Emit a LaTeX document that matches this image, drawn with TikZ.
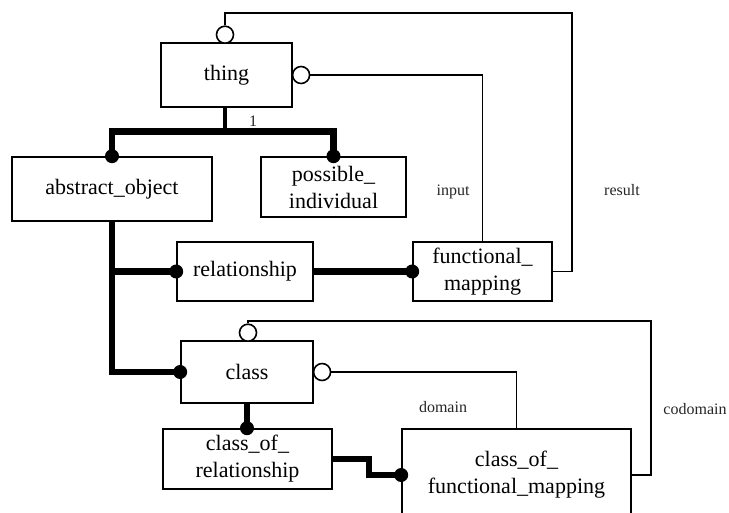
\documentclass[tikz,border=0pt]{standalone}
\usepackage{fontspec}
\setmainfont{Liberation Serif}
\begin{document}
\begin{tikzpicture}[x=1pt,y=-1pt,
  box/.style={draw, line width=1.6pt, inner sep=0pt, align=center, font=\fontsize{22}{27}\selectfont},
  link/.style={line width=1.6pt},
  heavy/.style={line width=6.5pt},
  ocirc/.style={circle, draw, fill=white, line width=1.6pt, minimum size=17pt, inner sep=0pt},
  lab/.style={font=\fontsize{16}{18}\selectfont, text=black!85, inner sep=0pt}
]
\useasboundingbox (0,0) rectangle (729,512);
\fill[white] (0,0) rectangle (729,512);
\clip (0,0) rectangle (729,512);

% nodes
\node[box, minimum width=131pt, minimum height=64pt] (thing) at (226.5,75) {thing};
\node[box, minimum width=200pt, minimum height=64pt] (abs) at (112,189) {abstract\_object};
\node[box, minimum width=145pt, minimum height=60pt] (poss) at (333.5,187) {possible\_\\individual};
\node[box, minimum width=136pt, minimum height=59pt] (rel) at (245,271.5) {relationship};
\node[box, minimum width=139pt, minimum height=59pt] (fm) at (482.5,271.5) {functional\_\\mapping};
\node[box, minimum width=132pt, minimum height=62pt] (class) at (247,372) {class};
\node[box, minimum width=169pt, minimum height=60pt] (cor) at (247.5,459) {class\_of\_\\relationship};
\node[box, minimum width=229pt, minimum height=92pt] (cofm) at (516.5,475) {class\_of\_\\functional\_mapping};

% labels
\node[lab] (one) at (253,121) {1};
\node[lab] (linput) at (453,192) {input};
\node[lab] (lresult) at (622,190) {result};
\node[lab] (ldomain) at (443,407) {domain};
\node[lab] (lcodomain) at (695,409) {codomain};

% subtype tree from thing
\coordinate (bus) at (225,131);
\draw[line width=4.5pt] (thing.south -| bus) -- (bus);
\draw[line width=7pt, line cap=rect] (bus -| abs.north) -- (bus -| poss.north);
\draw[heavy] (bus -| abs.north) -- (abs.north);
\fill (abs.north) circle (7pt);
\draw[heavy] (bus -| poss.north) -- (poss.north);
\fill (poss.north) circle (7pt);

% abstract_object subtypes
\draw[heavy, line join=miter] (abs.south) |- (class.west);
\fill (class.west) circle (7pt);
\draw[heavy] (abs.south |- rel.west) -- (rel.west);
\fill (rel.west) circle (7pt);

% relationship -> functional_mapping
\draw[heavy] (rel.east) -- (fm.west);
\fill (fm.west) circle (7pt);

% class -> class_of_relationship
\draw[heavy] (class.south) -- (class.south |- cor.north);
\fill (class.south |- cor.north) circle (7pt);

% class_of_relationship -> class_of_functional_mapping
\draw[heavy, line join=miter] (cor.east) -- ++(36,0) |- (cofm.west);
\fill (cofm.west) circle (7pt);

% roles of functional_mapping
\node[ocirc, anchor=south] (c1) at (225,44) {};
\node[ocirc, anchor=west] (c2) at ([xshift=-1pt]thing.east) {};
\coordinate (r1) at (572,13);
\draw[link] (c1.north) |- (r1) |- (fm.east);
\draw[link] (c2.east) -| (fm.north);

% roles of class_of_functional_mapping
\node[ocirc, anchor=south] (c3) at (248,342) {};
\node[ocirc, anchor=west] (c4) at ([xshift=-1pt]class.east) {};
\coordinate (r3) at (651,321);
\draw[link] (c3.north) |- (r3) |- (cofm.east);
\draw[link] (c4.east) -| (cofm.north);
\end{tikzpicture}
\end{document}
